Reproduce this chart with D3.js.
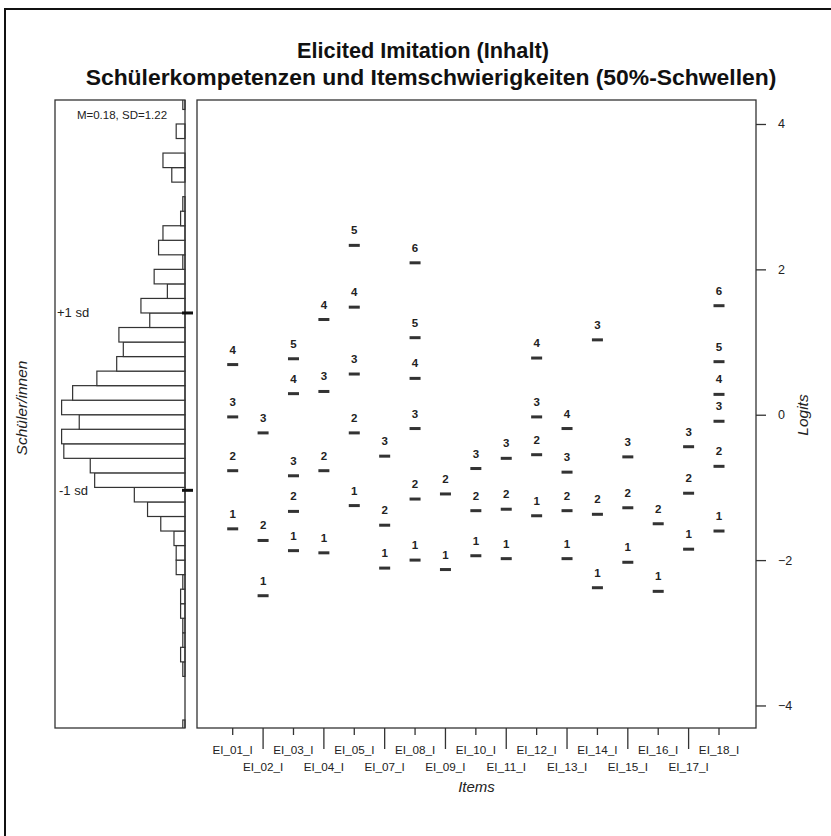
<!DOCTYPE html>
<html>
<head>
<meta charset="utf-8">
<script src="https://cdn.jsdelivr.net/npm/d3@7/dist/d3.min.js"></script>
<style>
  html, body { margin: 0; padding: 0; background: #fff; }
  svg { display: block; font-family: "Liberation Sans", Arial, sans-serif; }
</style>
</head>
<body>
<svg id="chart" width="831" height="836"></svg>
<script>
// ---------- data ----------
const titleLines = ["Elicited Imitation (Inhalt)", "Schülerkompetenzen und Itemschwierigkeiten (50%-Schwellen)"];
const titleSizes = [21.7, 22.9];
const items = ["EI_01_I","EI_02_I","EI_03_I","EI_04_I","EI_05_I","EI_07_I","EI_08_I","EI_09_I","EI_10_I",
               "EI_11_I","EI_12_I","EI_13_I","EI_14_I","EI_15_I","EI_16_I","EI_17_I","EI_18_I"];
// 50% thresholds (logits) per item, threshold 1..k
const thresholds = [
  [-1.57, -0.77, -0.03, 0.69],
  [-2.49, -1.73, -0.25],
  [-1.87, -1.33, -0.84, 0.29, 0.77],
  [-1.90, -0.77, 0.32, 1.31],
  [-1.25, -0.25, 0.56, 1.48, 2.33],
  [-2.11, -1.52, -0.57],
  [-2.00, -1.16, -0.19, 0.50, 1.06, 2.09],
  [-2.13, -1.09],
  [-1.94, -1.32, -0.74],
  [-1.98, -1.30, -0.60],
  [-1.39, -0.55, -0.03, 0.78],
  [-1.98, -1.32, -0.79, -0.19],
  [-2.38, -1.37, 1.03],
  [-2.03, -1.28, -0.58],
  [-2.43, -1.50],
  [-1.85, -1.08, -0.44],
  [-1.60, -0.71, -0.09, 0.28, 0.73, 1.50]
];
// person ability histogram: bins of 0.2 logits starting at -4.4
const binStart = -4.4;
const binWidth = 0.2;
const binCounts = [1,0,0,0,1,2,1,1,2,2,1,4,4,5,11,17,23,41,43,55,56,48,
                   56,51,40,31,28,30,16,20,8,14,1,12,10,2,1,0,6,10,0,4,0,1];
const personMean = 0.18, personSD = 1.22;
const logitTicks = [-4, -2, 0, 2, 4];

// ---------- layout ----------
const svg = d3.select("#chart");
const ink = "#333";
const main = {x0: 197, x1: 756, y0: 100, y1: 728};
const hist = {x0: 55, x1: 185};

const y = d3.scaleLinear().domain([-4.31, 4.33]).range([main.y1, main.y0]);
const x = d3.scaleLinear().domain([0, items.length - 1]).range([232.7, 719]);
const hx = d3.scaleLinear().domain([0, 59]).range([hist.x1, hist.x0]);

// outer frame
svg.append("rect").attr("x", 5).attr("y", 9).attr("width", 900).attr("height", 900)
  .attr("fill", "none").attr("stroke", "#111").attr("stroke-width", 2);

// title
svg.selectAll("text.title").data(titleLines).join("text")
  .attr("class", "title")
  .attr("x", (d, i) => i === 0 ? 423 : 431).attr("y", (d, i) => 58 + i * 27)
  .attr("text-anchor", "middle")
  .attr("font-size", (d, i) => titleSizes[i]).attr("font-weight", "bold").attr("fill", "#111")
  .text(d => d);

// ---------- histogram ----------
svg.append("clipPath").attr("id", "hclip").append("rect")
  .attr("x", hist.x0).attr("y", main.y0).attr("width", hist.x1 - hist.x0 + 2).attr("height", main.y1 - main.y0);
const hg = svg.append("g").attr("clip-path", "url(#hclip)");
const bins = binCounts.map((c, i) => ({lo: binStart + i * binWidth, hi: binStart + (i + 1) * binWidth, c}));
hg.selectAll("rect.bar").data(bins.filter(b => b.c > 0)).join("rect")
  .attr("class", "bar")
  .attr("x", d => hx(d.c)).attr("width", d => hx(0) - hx(d.c))
  .attr("y", d => y(d.hi)).attr("height", d => y(d.lo) - y(d.hi))
  .attr("fill", "#fff").attr("stroke", ink).attr("stroke-width", 1.2);
svg.append("rect").attr("x", hist.x0).attr("y", main.y0)
  .attr("width", hist.x1 - hist.x0).attr("height", main.y1 - main.y0)
  .attr("fill", "none").attr("stroke", ink).attr("stroke-width", 1.3);

// sd markers
const sdMarks = [{v: personMean + personSD, t: "+1 sd", dx: 57}, {v: personMean - personSD, t: "-1 sd", dx: 59}];
svg.selectAll("rect.sd").data(sdMarks).join("rect")
  .attr("class", "sd")
  .attr("x", 182).attr("width", 11).attr("y", d => y(d.v) - 1.5).attr("height", 3)
  .attr("fill", "#111");
svg.selectAll("text.sd").data(sdMarks).join("text")
  .attr("class", "sd")
  .attr("x", d => d.dx).attr("y", d => y(d.v) + 4.5)
  .attr("font-size", 13).attr("fill", "#222")
  .text(d => d.t);
svg.append("text").attr("x", 122).attr("y", 119).attr("text-anchor", "middle")
  .attr("font-size", 11.5).attr("fill", "#222")
  .text(`M=${personMean.toFixed(2)}, SD=${personSD.toFixed(2)}`);
svg.append("text").attr("transform", `translate(27,408) rotate(-90)`)
  .attr("text-anchor", "middle").attr("font-size", 15.5).attr("font-style", "italic").attr("fill", "#222")
  .text("Schüler/innen");

// ---------- main panel ----------
svg.append("rect").attr("x", main.x0).attr("y", main.y0)
  .attr("width", main.x1 - main.x0).attr("height", main.y1 - main.y0)
  .attr("fill", "none").attr("stroke", ink).attr("stroke-width", 1.3);

const pts = [];
thresholds.forEach((arr, i) => arr.forEach((v, k) => pts.push({i, k: k + 1, v})));
svg.selectAll("rect.th").data(pts).join("rect")
  .attr("class", "th")
  .attr("x", d => x(d.i) - 5.5).attr("width", 11)
  .attr("y", d => y(d.v) - 1.5).attr("height", 3)
  .attr("fill", "#333");
svg.selectAll("text.th").data(pts).join("text")
  .attr("class", "th")
  .attr("x", d => x(d.i)).attr("y", d => y(d.v) - 11)
  .attr("text-anchor", "middle").attr("font-size", 11.5).attr("font-weight", "bold").attr("fill", "#222")
  .text(d => d.k);

// right axis
const ra = svg.append("g").attr("transform", `translate(${main.x1},0)`)
  .call(d3.axisRight(y).tickValues(logitTicks).tickSize(10).tickPadding(12).tickFormat(d3.format("d")));
ra.select(".domain").remove();
ra.selectAll("line").attr("stroke", ink).attr("stroke-width", 1.3);
ra.selectAll("text").attr("font-size", 12.5).attr("fill", "#222").attr("font-family", "Liberation Sans, Arial, sans-serif");
svg.append("text").attr("transform", `translate(808,415) rotate(-90)`)
  .attr("text-anchor", "middle").attr("font-size", 15.5).attr("font-style", "italic").attr("fill", "#222")
  .text("Logits");

// bottom axis (alternating rows)
const xt = items.map((name, i) => ({name, i}));
svg.selectAll("line.xt").data(xt).join("line")
  .attr("class", "xt")
  .attr("x1", d => x(d.i)).attr("x2", d => x(d.i))
  .attr("y1", main.y1).attr("y2", d => main.y1 + (d.i % 2 === 0 ? 7 : 21))
  .attr("stroke", ink).attr("stroke-width", 1.3);
svg.selectAll("text.xt").data(xt).join("text")
  .attr("class", "xt")
  .attr("x", d => x(d.i)).attr("y", d => d.i % 2 === 0 ? 754 : 771)
  .attr("text-anchor", "middle").attr("font-size", 11.7).attr("fill", "#222")
  .text(d => d.name);
svg.append("text").attr("x", (main.x0 + main.x1) / 2).attr("y", 792)
  .attr("text-anchor", "middle").attr("font-size", 15).attr("font-style", "italic").attr("fill", "#222")
  .text("Items");
</script>
</body>
</html>
